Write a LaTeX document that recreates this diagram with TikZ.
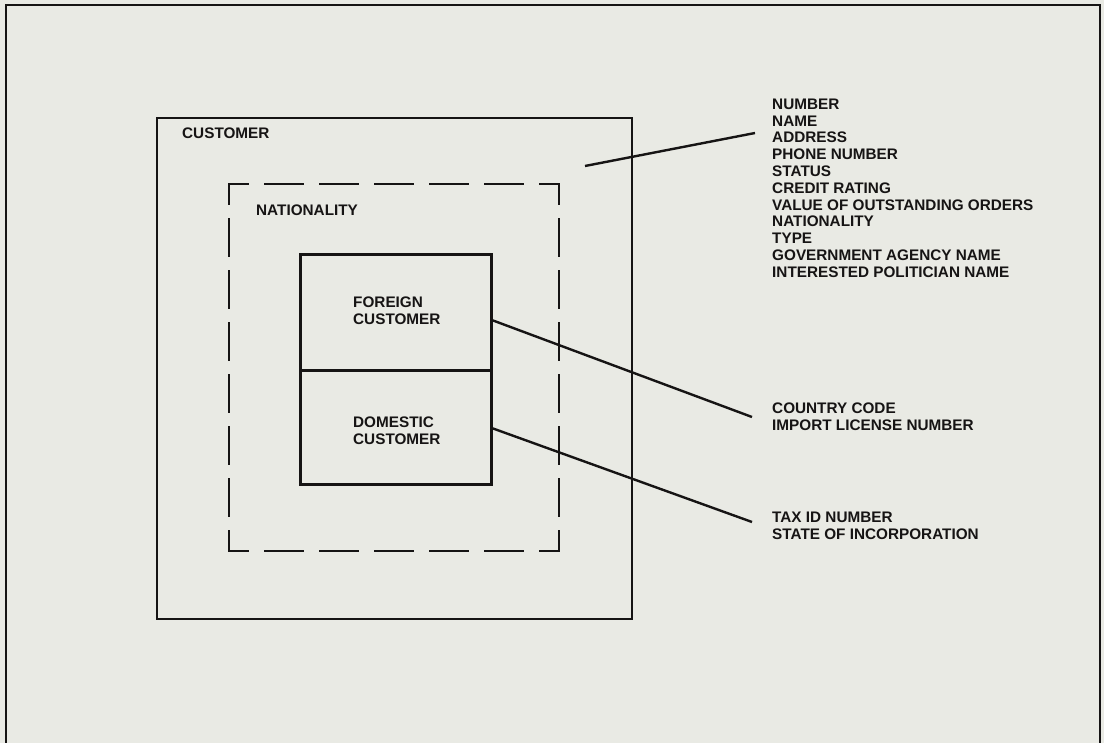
\documentclass[tikz,border=0pt]{standalone}
\usepackage{fontspec}
\setmainfont{Liberation Sans}
\usetikzlibrary{calc}
\definecolor{paper}{RGB}{233,234,228}
\definecolor{ink}{RGB}{22,20,20}
\begin{document}
\begin{tikzpicture}[x=1pt,y=-1pt,
  lbl/.style={font=\fontsize{15.3}{16.8}\selectfont\bfseries, text=ink, inner sep=0pt, anchor=north west, align=left},
  boxline/.style={draw=ink, line width=2.8pt},
  conn/.style={draw=ink, line width=2.4pt},
  dshh/.style={draw=ink, line width=2.8pt, line cap=rect, dash pattern=on 38pt off 17pt, dash phase=19pt},
  dshv/.style={draw=ink, line width=2.8pt, line cap=rect, dash pattern=on 37pt off 15pt, dash phase=17pt}]
\useasboundingbox (0,0) rectangle (1104,743);
\fill[paper] (0,0) rectangle (1104,743);
\begin{scope}
\clip (0,0) rectangle (1104,743);
\draw[boxline] (6,760) -- (6,5) -- (1100,5) -- (1100,760);
\end{scope}
% customer box
\draw[boxline] (157,118) rectangle (632,619);
\node[lbl] (cust) at (182,127.5) {CUSTOMER};
% dashed nationality box
\coordinate (d1) at (229,184);
\coordinate (d2) at (559,184);
\coordinate (d3) at (559,551);
\coordinate (d4) at (229,551);
\draw[dshh] (d1) -- (d2);
\draw[dshh] (d4) -- (d3);
\draw[dshv] (d1) -- (d4);
\draw[dshv] (d2) -- (d3);
\node[lbl] (nat) at (256,204.5) {NATIONALITY};
% subtype boxes
\node[boxline, minimum width=191pt, minimum height=116pt, anchor=north west, inner sep=0pt] (fb) at (299,253) {};
\node[boxline, minimum width=191pt, minimum height=114pt, anchor=north west, inner sep=0pt] (db) at (299,369) {};
\node[lbl] (ft) at (353,296.5) {FOREIGN\\CUSTOMER};
\node[lbl] (dt) at (353,416.5) {DOMESTIC\\CUSTOMER};
% attribute lists
\node[lbl] (attrs) at (772,98.5) {NUMBER\\NAME\\ADDRESS\\PHONE NUMBER\\STATUS\\CREDIT RATING\\VALUE OF OUTSTANDING ORDERS\\NATIONALITY\\TYPE\\GOVERNMENT AGENCY NAME\\INTERESTED POLITICIAN NAME};
\node[lbl] (fattrs) at (772,402.5) {COUNTRY CODE\\IMPORT LICENSE NUMBER};
\node[lbl] (dattrs) at (772,511.5) {TAX ID NUMBER\\STATE OF INCORPORATION};
% connectors
\coordinate (a1) at (585,166);
\coordinate (a2) at (755,133);
\draw[conn] (a1) -- (a2);
\coordinate (f1) at ($(fb.east)+(0,8)$);
\coordinate (f2) at (752,417);
\draw[conn] (f1) -- (f2);
\coordinate (g1) at ($(db.east)+(0,1)$);
\coordinate (g2) at (752,522);
\draw[conn] (g1) -- (g2);
\end{tikzpicture}
\end{document}
